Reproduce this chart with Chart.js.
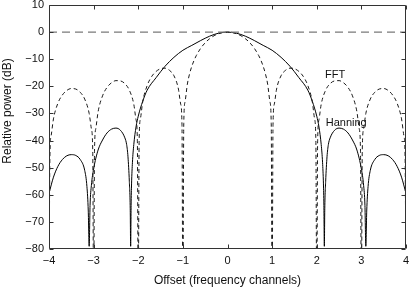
<!DOCTYPE html>
<html>
<head>
<meta charset="utf-8">
<script src="https://cdn.jsdelivr.net/npm/chart.js@4.4.1/dist/chart.umd.min.js"></script>
<style>
  html, body { margin: 0; padding: 0; background: #fff; }
  canvas { display: block; }
</style>
</head>
<body>
<canvas id="window-response" width="410" height="288"></canvas>
<script>
// offsets in frequency channels, power in dB (values below -80 are clipped by the axis)
var fftX = [-4, -3.98, -3.95, -3.9, -3.8, -3.7, -3.6, -3.5, -3.4, -3.3, -3.2, -3.1, -3.05, -3.02,
  -3, -2.98, -2.95, -2.9, -2.8, -2.7, -2.6, -2.5, -2.4, -2.3, -2.2, -2.1, -2.05, -2.02,
  -2, -1.98, -1.95, -1.9, -1.8, -1.7, -1.6, -1.5, -1.4, -1.3, -1.2, -1.1, -1.05, -1.02,
  -1, -0.98, -0.95, -0.9, -0.85, -0.8, -0.75, -0.7, -0.6, -0.5, -0.4, -0.3, -0.2, -0.1,
  0, 0.1, 0.2, 0.3, 0.4, 0.5, 0.6, 0.7, 0.75, 0.8, 0.85, 0.9, 0.95, 0.98,
  1, 1.02, 1.05, 1.1, 1.2, 1.3, 1.4, 1.5, 1.6, 1.7, 1.8, 1.9, 1.95, 1.98,
  2, 2.02, 2.05, 2.1, 2.2, 2.3, 2.4, 2.5, 2.6, 2.7, 2.8, 2.9, 2.95, 2.98,
  3, 3.02, 3.05, 3.1, 3.2, 3.3, 3.4, 3.5, 3.6, 3.7, 3.8, 3.9, 3.95, 3.98, 4];
var fftDb = [-100, -46.0, -38.0, -32.0, -26.2, -23.2, -21.5, -20.8, -21.0, -22.2, -24.7, -30.0, -35.7, -43.6,
  -100, -43.5, -35.5, -29.4, -23.5, -20.4, -18.7, -17.9, -18.0, -19.0, -21.4, -26.6, -32.3, -40.1,
  -100, -39.9, -31.9, -25.7, -19.7, -16.4, -14.5, -13.5, -13.3, -14.1, -16.1, -21.0, -26.5, -34.2,
  -100, -33.8, -25.6, -19.23, -15.39, -12.62, -10.45, -8.69, -5.94, -3.92, -2.42, -1.33, -0.58, -0.14,
  0, -0.14, -0.58, -1.33, -2.42, -3.92, -5.94, -8.69, -10.45, -12.62, -15.39, -19.23, -25.6, -33.8,
  -100, -34.2, -26.5, -21.0, -16.1, -14.1, -13.3, -13.5, -14.5, -16.4, -19.7, -25.7, -31.9, -39.9,
  -100, -40.1, -32.3, -26.6, -21.4, -19.0, -18.0, -17.9, -18.7, -20.4, -23.5, -29.4, -35.5, -43.5,
  -100, -43.6, -35.7, -30.0, -24.7, -22.2, -21.0, -20.8, -21.5, -23.2, -26.2, -32.0, -38.0, -46.0, -100];

var hannX = [-4, -3.9, -3.8, -3.7, -3.6, -3.5, -3.4, -3.3, -3.2, -3.15, -3.12, -3.1,
  -3.08, -3.05, -3, -2.9, -2.8, -2.7, -2.6, -2.5, -2.4, -2.3, -2.26, -2.23,
  -2.2, -2.18, -2.17, -2.16, -2.15, -2.13, -2.1, -2.05, -2, -1.9, -1.8, -1.6,
  -1.4, -1.2, -1, -0.8, -0.6, -0.4, -0.2,
  0, 0.2, 0.4, 0.6, 0.8, 1, 1.2, 1.4, 1.6, 1.8, 1.9, 2,
  2.05, 2.1, 2.13, 2.15, 2.16, 2.17, 2.18, 2.2, 2.23, 2.26, 2.3, 2.4,
  2.5, 2.6, 2.7, 2.8, 2.9, 3, 3.05, 3.08, 3.1, 3.12, 3.15, 3.2,
  3.3, 3.4, 3.5, 3.6, 3.7, 3.8, 3.9, 4];
var hannDb = [-59.5, -53.5, -49.5, -47.0, -45.6, -45.2, -45.5, -47, -51, -57, -66, -79,
  -64, -56.5, -50.5, -43.5, -39.8, -37.2, -35.8, -35.4, -36.2, -39.0, -41.5, -46,
  -55, -65, -79, -64, -56, -48, -41.5, -35.0, -31.0, -25.5, -21.4, -16.8,
  -12.6, -9.3, -6.7, -4.9, -3.1, -1.5, -0.4,
  0, -0.4, -1.5, -3.1, -4.9, -6.7, -9.3, -12.6, -16.8, -21.4, -25.5, -31.0,
  -35.0, -41.5, -48, -56, -64, -79, -65, -55, -46, -41.5, -39.0, -36.2,
  -35.4, -35.8, -37.2, -39.8, -43.5, -50.5, -56.5, -64, -79, -66, -57, -51,
  -47, -45.5, -45.2, -45.6, -47.0, -49.5, -53.5, -59.5];

var refX = [-4, 4];
var refDb = [0, 0];

var seriesNames = ["FFT", "Hanning"];

function toPoints(xs, ys) {
  return xs.map(function (x, i) { return {x: x, y: ys[i]}; });
}

function minusSign(v) {
  return v < 0 ? "\u2212" + Math.abs(v) : "" + v;
}

var FONT = "'Liberation Sans', Arial, Helvetica, sans-serif";
var INK = "#111";

// curve labels, placed in data units
var curveLabels = [
  {text: seriesNames[0], x: 2.41, y: -15.9},
  {text: seriesNames[1], x: 2.66, y: -33.4}
];

// box round the plot, inward ticks on all four sides, y title and curve labels
var frame = {
  id: "frame",
  afterDatasetsDraw: function (chart) {
    var ctx = chart.ctx, a = chart.chartArea;
    var xs = chart.scales.x, ys = chart.scales.y;
    var l = Math.round(a.left) + 0.5, r = Math.round(a.right) - 0.5;
    var t = Math.round(a.top) + 0.5, b = Math.round(a.bottom) - 0.5;
    ctx.save();
    ctx.strokeStyle = "#333";
    ctx.lineWidth = 1;
    ctx.beginPath();
    ctx.rect(l, t, r - l, b - t);
    xs.ticks.forEach(function (tk) {
      var p = Math.round(xs.getPixelForValue(tk.value)) + 0.5;
      ctx.moveTo(p, b); ctx.lineTo(p, b - 4);
      ctx.moveTo(p, t); ctx.lineTo(p, t + 4);
    });
    ys.ticks.forEach(function (tk) {
      var p = Math.round(ys.getPixelForValue(tk.value)) + 0.5;
      ctx.moveTo(l, p); ctx.lineTo(l + 4, p);
      ctx.moveTo(r, p); ctx.lineTo(r - 4, p);
    });
    ctx.stroke();

    ctx.fillStyle = INK;
    ctx.font = "11px " + FONT;
    ctx.textAlign = "center";
    ctx.textBaseline = "middle";
    curveLabels.forEach(function (c) {
      ctx.fillText(c.text, xs.getPixelForValue(c.x), ys.getPixelForValue(c.y));
    });

    ctx.font = "12px " + FONT;
    ctx.translate(8, 111);
    ctx.rotate(-Math.PI / 2);
    ctx.fillText("Relative power (dB)", 0, 0);
    ctx.restore();
  }
};

var ctx = document.getElementById("window-response").getContext("2d");

var chart = new Chart(ctx, {
  type: "scatter",
  data: {
    datasets: [
      {
        label: "0 dB",
        data: toPoints(refX, refDb),
        showLine: true,
        borderColor: "#7a7a7a",
        borderWidth: 1.3,
        borderDash: [8, 5],
        pointRadius: 0,
        clip: 0
      },
      {
        label: seriesNames[0],
        data: toPoints(fftX, fftDb),
        showLine: true,
        borderColor: "#1a1a1a",
        borderWidth: 1,
        borderDash: [4, 3],
        cubicInterpolationMode: "monotone",
        pointRadius: 0,
        clip: 0
      },
      {
        label: seriesNames[1],
        data: toPoints(hannX, hannDb),
        showLine: true,
        borderColor: "#000",
        borderWidth: 1,
        cubicInterpolationMode: "monotone",
        pointRadius: 0,
        clip: 0
      }
    ]
  },
  options: {
    responsive: false,
    animation: false,
    events: [],
    layout: { padding: { left: 0, top: 5, right: 4, bottom: 0 } },
    plugins: { legend: { display: false }, tooltip: { enabled: false } },
    scales: {
      x: {
        type: "linear",
        min: -4,
        max: 4,
        grid: { display: false, drawTicks: false, tickLength: 0 },
        border: { display: false },
        ticks: {
          stepSize: 1,
          padding: 5,
          color: INK,
          font: { family: FONT, size: 11 },
          maxRotation: 0,
          callback: minusSign
        },
        title: {
          display: true,
          text: "Offset (frequency channels)",
          color: INK,
          font: { family: FONT, size: 12 },
          padding: 0
        },
        afterFit: function (scale) {
          scale.height = 39;
          scale.paddingLeft = 0;
          scale.paddingRight = 0;
        }
      },
      y: {
        type: "linear",
        min: -80,
        max: 10,
        grid: { display: false, drawTicks: false, tickLength: 0 },
        border: { display: false },
        ticks: {
          stepSize: 10,
          padding: 5,
          color: INK,
          font: { family: FONT, size: 11 },
          callback: minusSign
        },
        afterFit: function (scale) {
          scale.width = 49;
          scale.paddingTop = 0;
          scale.paddingBottom = 0;
        }
      }
    }
  },
  plugins: [frame]
});
</script>
</body>
</html>
